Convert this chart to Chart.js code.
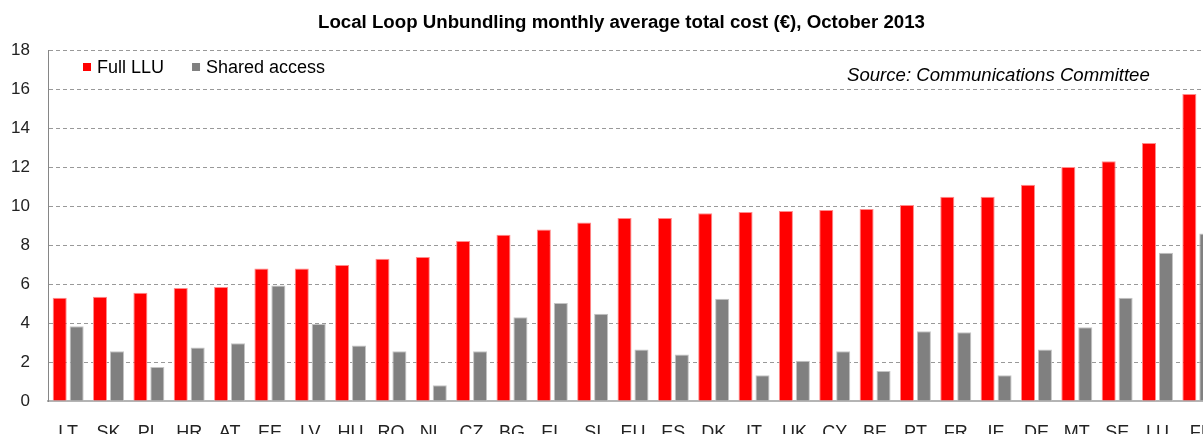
<!DOCTYPE html>
<html>
<head>
<meta charset="utf-8">
<script src="https://cdn.jsdelivr.net/npm/chart.js@4.4.1/dist/chart.umd.min.js"></script>
<style>
  html, body { margin: 0; padding: 0; overflow: hidden; background: #fff; }
  #wrap { position: relative; width: 1243px; height: 441px; }
</style>
</head>
<body>
<div id="wrap"><canvas id="lluChart"></canvas></div>
<script>
/* Local Loop Unbundling monthly average total cost, October 2013 */
const countries = ["LT", "SK", "PL", "HR", "AT", "EE", "LV", "HU", "RO", "NL", "CZ", "BG", "EL", "SI", "EU",
  "ES", "DK", "IT", "UK", "CY", "BE", "PT", "FR", "IE", "DE", "MT", "SE", "LU", "FI"];
const fullLLU = [5.3, 5.35, 5.55, 5.8, 5.85, 6.8, 6.8, 6.97, 7.3, 7.38, 8.2, 8.52, 8.8, 9.16, 9.38,
  9.38, 9.63, 9.69, 9.74, 9.79, 9.84, 10.05, 10.47, 10.47, 11.09, 12.0, 12.3, 13.23, 15.75];
const sharedAccess = [3.83, 2.55, 1.75, 2.74, 2.96, 5.92, 3.95, 2.84, 2.55, 0.81, 2.55, 4.3, 5.03, 4.47, 2.64,
  2.38, 5.24, 1.32, 2.07, 2.55, 1.54, 3.58, 3.53, 1.32, 2.64, 3.78, 5.29, 7.6, 8.59];
const yMax = 18;
const yStep = 2;

const titleText = "Local Loop Unbundling monthly average total cost (\u20AC), October 2013";
const sourceText = "Source: Communications Committee";
const FONT = "'Liberation Sans', Arial, sans-serif";

/* title, legend and source note drawn on top */
const overlay = {
  id: "overlay",
  afterDraw(chart) {
    const ctx = chart.ctx;
    ctx.save();
    ctx.fillStyle = "#000";

    // title, squeezed to the width seen in the picture
    ctx.font = "bold 18px " + FONT;
    ctx.textBaseline = "alphabetic";
    const tw = ctx.measureText(titleText).width;
    const sx = 607 / tw;
    ctx.save();
    ctx.translate(621.5 - 607 / 2, 28);
    ctx.scale(sx, 1);
    ctx.fillText(titleText, 0, 0);
    ctx.restore();

    // legend
    ctx.font = "18px " + FONT;
    let x = 83;
    chart.data.datasets.forEach(ds => {
      ctx.fillStyle = ds.backgroundColor;
      ctx.fillRect(x, 63, 8, 8);
      ctx.fillStyle = "#000";
      ctx.fillText(ds.label, x + 14, 73);
      x += 14 + ctx.measureText(ds.label).width + 28;
    });

    // source
    ctx.font = "italic 18.6px " + FONT;
    ctx.fillText(sourceText, 847, 81);
    ctx.restore();
  }
};

const ctx = document.getElementById("lluChart");

new Chart(ctx, {
  type: "bar",
  data: {
    labels: countries,
    datasets: [{
      label: "Full LLU",
      data: fullLLU,
      backgroundColor: "#ff0000",
      borderColor: "#ff8c8c",
      borderWidth: 1,
      categoryPercentage: 0.84,
      barPercentage: 0.83
    }, {
      label: "Shared access",
      data: sharedAccess,
      backgroundColor: "#808080",
      borderColor: "#c4c4c4",
      borderWidth: 1,
      categoryPercentage: 0.84,
      barPercentage: 0.83
    }]
  },
  options: {
    responsive: true,
    maintainAspectRatio: false,
    animation: false,
    layout: { padding: { top: 50, right: 25, left: 0, bottom: 0 } },
    plugins: {
      legend: { display: false },
      title: { display: false },
      tooltip: { enabled: false }
    },
    scales: {
      x: {
        grid: { display: false },
        border: { color: "#b4b4b4", width: 2 },
        ticks: {
          color: "#222",
          font: { family: FONT, size: 18 },
          padding: 13,
          autoSkip: false,
          maxRotation: 0
        },
        afterFit(scale) { scale.height = 40; }
      },
      y: {
        min: 0,
        max: yMax,
        grid: { color: "#999", lineWidth: 1, drawTicks: false },
        border: { display: true, color: "#868686", width: 1, dash: [4, 3] },
        ticks: {
          stepSize: yStep,
          color: "#222",
          font: { family: FONT, size: 17 },
          padding: 18
        },
        afterFit(scale) { scale.width = 48; }
      }
    }
  },
  plugins: [overlay]
});
</script>
</body>
</html>
